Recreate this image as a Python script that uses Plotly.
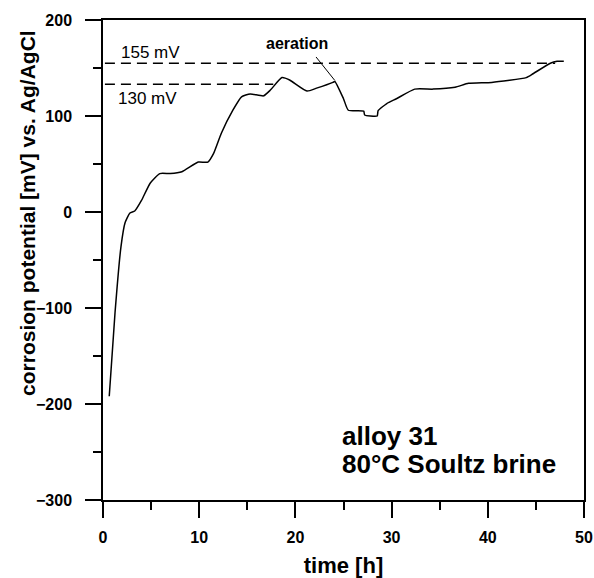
import plotly.graph_objects as go

# corrosion potential curve
time_h = [0.65, 1.25, 1.87, 2.3, 2.8, 3.3, 4.0, 4.9, 5.9, 7.0, 8.2, 9.9, 10.9, 11.5,
          12.3, 13.5, 14.4, 15.3, 16.7, 17.4, 18.6, 19.4, 21.2, 22.2, 23.9, 24.1,
          25.0, 25.5, 27.1, 27.2, 27.8, 28.5, 28.6, 29.5, 30.5, 32.4, 34.3, 36.6,
          38.0, 40.4, 44.0, 44.7, 46.5, 47.2, 47.9]
potential_mv = [-192, -105, -36, -11, -1, 1, 12, 30, 40, 40, 42, 52, 52, 61,
                82, 106, 120, 123, 121, 127, 140, 137.5, 126, 129, 135, 136,
                118, 106, 105, 101, 100, 100, 105.5, 113, 118, 128, 128, 130,
                134, 135, 140, 144, 155, 157, 157]

# reference levels
level_155_t = [0.2, 47.0]
level_155_mv = [155, 155]
level_130_t = [0.2, 17.7]
level_130_mv = [133, 133]

fig = go.Figure()

dash_style = dict(color="black", width=1.5, dash="10px,6px")
fig.add_trace(go.Scatter(x=level_155_t, y=level_155_mv, mode="lines", line=dash_style))
fig.add_trace(go.Scatter(x=level_130_t, y=level_130_mv, mode="lines", line=dash_style))
fig.add_trace(go.Scatter(x=time_h, y=potential_mv, mode="lines",
                         line=dict(color="black", width=1.5, shape="spline", smoothing=0.5)))

font = "Liberation Sans, Arial, sans-serif"

# labels
fig.add_annotation(x=4.9, y=166.5, text="155 mV", showarrow=False,
                   font=dict(family=font, size=17, color="black"))
fig.add_annotation(x=4.6, y=118.5, text="130 mV", showarrow=False,
                   font=dict(family=font, size=17, color="black"))
fig.add_annotation(x=20.2, y=176, text="<b>aeration</b>", showarrow=False,
                   font=dict(family=font, size=16, color="black"))
fig.add_annotation(x=24.1, y=137, ax=-20, ay=-25, text="", showarrow=True,
                   arrowhead=0, arrowwidth=1, arrowcolor="black")
fig.add_annotation(x=24.6, y=-233, text="<b>alloy 31</b>", showarrow=False,
                   xanchor="left", font=dict(family=font, size=26, color="black"))
fig.add_annotation(x=24.6, y=-263, text="<b>80°C Soultz brine</b>", showarrow=False,
                   xanchor="left", font=dict(family=font, size=26, color="black"))
fig.add_annotation(xref="paper", yref="paper", x=-0.156, y=0.598,
                   xanchor="center", yanchor="middle",
                   text="<b>corrosion potential [mV] vs. Ag/AgCl</b>", textangle=-90,
                   showarrow=False, font=dict(family=font, size=21, color="black"))

axis_common = dict(
    showline=True, linecolor="black", linewidth=1.5, mirror=True,
    showgrid=False, zeroline=False,
    ticks="outside", ticklen=16, tickwidth=1.5, tickcolor="black",
    tickfont=dict(family=font, size=16, color="black", weight="bold"),
)

fig.update_xaxes(range=[0, 50], dtick=10, ticklabelstandoff=6,
                 minor=dict(dtick=5, ticks="outside", ticklen=8, tickwidth=1.5,
                            tickcolor="black", showgrid=False),
                 title=dict(text="<b>time [h]</b>", font=dict(family=font, size=22, color="black"),
                            standoff=14),
                 **axis_common)
fig.update_yaxes(range=[-300, 200], dtick=100, ticklabelstandoff=10,
                 minor=dict(dtick=50, ticks="outside", ticklen=8, tickwidth=1.5,
                            tickcolor="black", showgrid=False),
                 **axis_common)

fig.update_layout(
    width=594, height=578,
    margin=dict(l=103, r=10, t=20, b=78, autoexpand=False),
    paper_bgcolor="white", plot_bgcolor="white",
    showlegend=False,
)

fig.write_html("out.html", config={"displayModeBar": False},
               post_script="document.body.style.margin='0';")
